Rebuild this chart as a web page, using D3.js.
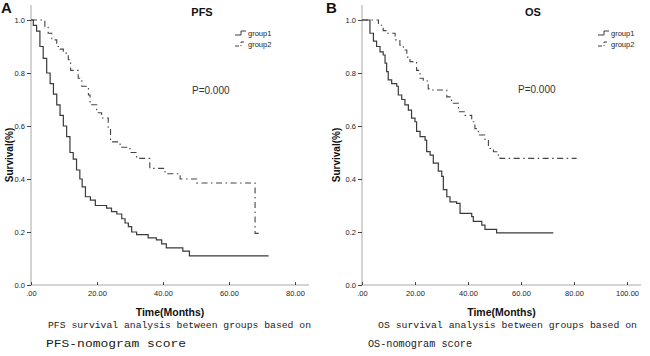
<!DOCTYPE html>
<html><head><meta charset="utf-8">
<script src="https://cdn.jsdelivr.net/npm/d3@7"></script>
<style>body{margin:0;background:#fff}svg{display:block}</style>
</head><body>
<svg id="c" width="650" height="356"></svg>
<script>
// ---- data ----
const yTicks = [0, 0.2, 0.4, 0.6, 0.8, 1.0];
const yTickLabels = ["0.0", "0.2", "0.4", "0.6", "0.8", "1.0"];
const pfsXTicks = [0, 20, 40, 60, 80];
const pfsXTickLabels = [".00", "20.00", "40.00", "60.00", "80.00"];
const osXTicks = [0, 20, 40, 60, 80, 100];
const osXTickLabels = [".00", "20.00", "40.00", "60.00", "80.00", "100.00"];
const seriesNames = ["group1", "group2"];

// [time (months), survival]
const pfsGroup1 = [[0,1.0],[0.7,0.98],[1.7,0.958],[2.7,0.90],[3.7,0.855],[4.75,0.80],[5.8,0.76],[6.8,0.72],[7.8,0.68],[8.8,0.64],[9.8,0.60],[10.8,0.56],[11.8,0.50],[12.8,0.475],[13.8,0.434],[14.8,0.40],[15.5,0.37],[16.5,0.333],[18,0.32],[19.5,0.30],[22.9,0.29],[24.4,0.277],[26,0.268],[27.5,0.25],[28.5,0.234],[29.5,0.22],[30.5,0.20],[32,0.19],[35.5,0.178],[38,0.17],[39.6,0.155],[41,0.14],[46,0.128],[48,0.11],[72,0.11]];
const pfsGroup2 = [[0,1.0],[3.2,1.0],[4.2,0.975],[5.2,0.95],[6.3,0.925],[7.8,0.90],[8.8,0.89],[9.8,0.875],[11.3,0.85],[12.0,0.81],[14.3,0.78],[15.4,0.75],[17.4,0.717],[17.9,0.68],[19.9,0.65],[21.4,0.63],[23.4,0.59],[24.1,0.54],[27,0.52],[30,0.50],[32,0.478],[36,0.44],[40.6,0.42],[45.2,0.40],[50.2,0.385],[67.9,0.195],[69.9,0.195]];
const osGroup1 = [[0,1.0],[3.0,0.95],[4.3,0.92],[5.5,0.90],[6.8,0.88],[8.0,0.868],[8.7,0.837],[9.3,0.805],[9.9,0.774],[11.2,0.76],[13.1,0.75],[13.7,0.717],[15.0,0.70],[16.2,0.68],[17.5,0.66],[18.7,0.63],[20.0,0.616],[20.6,0.58],[21.9,0.56],[23.8,0.547],[24.4,0.503],[25.7,0.49],[26.9,0.46],[28.8,0.43],[30.1,0.41],[30.7,0.36],[32.0,0.333],[33.2,0.314],[35.7,0.308],[37.0,0.27],[41.4,0.258],[42.0,0.24],[45.2,0.226],[46.4,0.21],[50.8,0.197],[72.2,0.197]];
const osGroup2 = [[0,1.0],[4.3,1.0],[6.2,0.98],[8.0,0.96],[9.3,0.95],[12.5,0.925],[14.3,0.905],[15.6,0.887],[16.9,0.86],[18.1,0.843],[20.6,0.81],[21.9,0.78],[23.1,0.77],[25.0,0.74],[26.3,0.736],[32.0,0.71],[33.8,0.686],[36.4,0.654],[38.9,0.64],[41.4,0.616],[42.6,0.59],[43.9,0.566],[46.4,0.547],[47.7,0.515],[49.6,0.503],[51.4,0.484],[52.1,0.478],[81.0,0.478]];

const panels = [
  {letter:"A", title:"PFS", xTicks:pfsXTicks, xLabels:pfsXTickLabels, xmax:80, x0:31, x1:295, axisEnd:309,
   g1:pfsGroup1, g2:pfsGroup2, titleX:202, legX:235, pX:192, pY:94, letterX:1, ylabX:13,
   cap1:"PFS survival analysis between groups based on", cap2:"PFS-nomogram score", c1x:48, c1w:263, c2x:46, c2w:140},
  {letter:"B", title:"OS", xTicks:osXTicks, xLabels:osXTickLabels, xmax:100, x0:362, x1:627, axisEnd:641,
   g1:osGroup1, g2:osGroup2, titleX:533, legX:598, pX:518, pY:93, letterX:326, ylabX:340,
   cap1:"OS survival analysis between groups based on", cap2:"OS-nomogram score", c1x:378, c1w:259, c2x:368, c2w:104}
];

const svg = d3.select("#c");
const sans = "Liberation Sans, Arial, sans-serif";
const mono = "Liberation Mono, monospace";
const y = d3.scaleLinear().domain([0,1]).range([285,20]);
const dash2 = "6,3.5,1.5,3.5";

panels.forEach(p => {
  const x = d3.scaleLinear().domain([0,p.xmax]).range([p.x0,p.x1]);
  const g = svg.append("g");
  // axes lines
  g.append("line").attr("x1",p.x0).attr("x2",p.x0).attr("y1",5).attr("y2",285).attr("stroke","#a8a8a8").attr("stroke-width",1);
  g.append("line").attr("x1",p.x0).attr("x2",p.axisEnd).attr("y1",285).attr("y2",285).attr("stroke","#a8a8a8").attr("stroke-width",1);
  // y ticks
  const ya = d3.axisLeft(y).tickValues(yTicks).tickSize(4).tickFormat((d,i)=>yTickLabels[i]);
  const yg = g.append("g").attr("transform",`translate(${p.x0},0)`).call(ya);
  yg.select(".domain").remove();
  yg.selectAll("line").attr("stroke","#444");
  yg.selectAll("text").attr("font-family",sans).attr("font-size",7.5).attr("fill","#222").attr("dx",1);
  // x ticks
  const xa = d3.axisBottom(x).tickValues(p.xTicks).tickSize(4).tickFormat((d,i)=>p.xLabels[i]);
  const xg = g.append("g").attr("transform",`translate(0,285)`).call(xa);
  xg.select(".domain").remove();
  xg.selectAll("line").attr("stroke","#444").attr("y1",-3).attr("y2",0);
  xg.selectAll("text").attr("font-family",sans).attr("font-size",7.5).attr("fill","#222").attr("dy","0.5em");
  // curves
  const line = d3.line().x(d=>x(d[0])).y(d=>y(d[1])).curve(d3.curveStepAfter);
  g.append("path").attr("d",line(p.g1)).attr("fill","none").attr("stroke","#3a3a3a").attr("stroke-width",1.2);
  g.append("path").attr("d",line(p.g2)).attr("fill","none").attr("stroke","#444").attr("stroke-width",1.1).attr("stroke-dasharray",dash2);
  // texts
  g.append("text").attr("x",p.letterX).attr("y",13).text(p.letter).attr("font-family",sans).attr("font-weight","bold").attr("font-size",15).attr("fill","#111");
  g.append("text").attr("x",p.titleX).attr("y",16).attr("text-anchor","middle").text(p.title).attr("font-family",sans).attr("font-weight","bold").attr("font-size",11).attr("fill","#111");
  g.append("text").attr("transform",`translate(${p.ylabX},155) rotate(-90)`).attr("text-anchor","middle").text("Survival(%)").attr("font-family",sans).attr("font-weight","bold").attr("font-size",10).attr("fill","#111");
  g.append("text").attr("x",(p.x0+p.axisEnd)/2).attr("y",316).attr("text-anchor","middle").text("Time(Months)").attr("font-family",sans).attr("font-weight","bold").attr("font-size",10.5).attr("fill","#111");
  g.append("text").attr("x",p.pX).attr("y",p.pY).text("P=0.000").attr("font-family",sans).attr("font-size",10).attr("fill","#333");
  // legend
  seriesNames.forEach((nm,i)=>{
    const ly = 34 + i*11;
    const lx = p.legX;
    g.append("path").attr("d",`M${lx},${ly+1}H${lx+6}V${ly-3}H${lx+11}`).attr("fill","none").attr("stroke","#3a3a3a").attr("stroke-width",1)
      .attr("stroke-dasharray", i===1 ? "4,2,1,2" : null);
    g.append("text").attr("x",lx+13).attr("y",ly+2).text(nm).attr("font-family",sans).attr("font-size",7.5).attr("fill","#222");
  });
  // caption
  g.append("text").attr("x",p.c1x).attr("y",328).text(p.cap1).attr("font-family",mono).attr("font-size",9.5).attr("fill","#222")
    .attr("textLength",p.c1w).attr("lengthAdjust","spacingAndGlyphs");
  g.append("text").attr("x",p.c2x).attr("y",347).text(p.cap2).attr("font-family",mono).attr("font-size",10.5).attr("fill","#222")
    .attr("textLength",p.c2w).attr("lengthAdjust","spacingAndGlyphs");
});
</script>
</body></html>
